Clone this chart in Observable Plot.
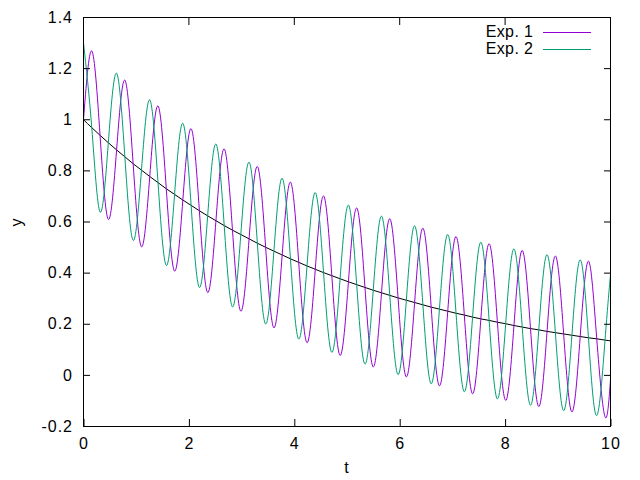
<!DOCTYPE html>
<html>
<head>
<meta charset="utf-8">
<script src="https://cdn.jsdelivr.net/npm/d3@7"></script>
<script src="https://cdn.jsdelivr.net/npm/@observablehq/plot@0.6"></script>
<style>
  html, body { margin: 0; padding: 0; background: white; }
  #wrap { position: relative; width: 640px; height: 480px; font-family: "Liberation Sans", Arial, sans-serif; }
  #wrap svg text { letter-spacing: 1px; }
  .lg-text { position: absolute; font-size: 16px; line-height: 18px; color: black; white-space: nowrap; letter-spacing: 0.4px; }
  .lg-line { position: absolute; height: 1px; }
</style>
</head>
<body>
<div id="wrap"></div>
<script>
// ---- data ----
const seriesNames = ["Exp. 1", "Exp. 2"];
const seriesColors = ["#9400d3", "#009e73"];

const t = [0.000, 0.157, 0.314, 0.471, 0.628, 0.785, 0.942, 1.100, 1.257, 1.414,
  1.571, 1.728, 1.885, 2.042, 2.199, 2.356, 2.513, 2.670, 2.827, 2.985,
  3.142, 3.299, 3.456, 3.613, 3.770, 3.927, 4.084, 4.241, 4.398, 4.555,
  4.712, 4.869, 5.027, 5.184, 5.341, 5.498, 5.655, 5.812, 5.969, 6.126,
  6.283, 6.440, 6.597, 6.754, 6.912, 7.069, 7.226, 7.383, 7.540, 7.697,
  7.854, 8.011, 8.168, 8.325, 8.482, 8.639, 8.796, 8.954, 9.111, 9.268,
  9.425, 9.582, 9.739, 9.896, 10.000];

const baseline = [1.000, 0.969, 0.939, 0.910, 0.882, 0.855, 0.828, 0.803, 0.778, 0.754,
  0.730, 0.708, 0.686, 0.665, 0.644, 0.624, 0.605, 0.586, 0.568, 0.551,
  0.534, 0.517, 0.501, 0.486, 0.471, 0.456, 0.442, 0.428, 0.415, 0.402,
  0.390, 0.378, 0.366, 0.355, 0.344, 0.333, 0.323, 0.313, 0.303, 0.294,
  0.285, 0.276, 0.267, 0.259, 0.251, 0.243, 0.236, 0.228, 0.221, 0.215,
  0.208, 0.202, 0.195, 0.189, 0.183, 0.178, 0.172, 0.167, 0.162, 0.157,
  0.152, 0.147, 0.143, 0.138, 0.135];

const exp1 = [1.000, 1.269, 0.939, 0.610, 0.882, 1.155, 0.828, 0.503, 0.778, 1.054,
  0.730, 0.408, 0.686, 0.965, 0.644, 0.324, 0.605, 0.886, 0.568, 0.251,
  0.534, 0.817, 0.501, 0.186, 0.471, 0.756, 0.442, 0.128, 0.415, 0.702,
  0.390, 0.078, 0.366, 0.655, 0.344, 0.033, 0.323, 0.613, 0.303, -0.006,
  0.285, 0.576, 0.267, -0.041, 0.251, 0.543, 0.236, -0.072, 0.221, 0.515,
  0.208, -0.098, 0.195, 0.489, 0.183, -0.122, 0.172, 0.467, 0.162, -0.143,
  0.152, 0.447, 0.143, -0.162, -0.017];

const exp2 = [1.300, 0.969, 0.639, 0.910, 1.182, 0.855, 0.528, 0.803, 1.078, 0.754,
  0.430, 0.708, 0.986, 0.665, 0.344, 0.624, 0.905, 0.586, 0.268, 0.551,
  0.834, 0.517, 0.201, 0.486, 0.771, 0.456, 0.142, 0.428, 0.715, 0.402,
  0.090, 0.378, 0.666, 0.355, 0.044, 0.333, 0.623, 0.313, 0.003, 0.294,
  0.585, 0.276, -0.033, 0.259, 0.551, 0.243, -0.064, 0.228, 0.521, 0.215,
  -0.092, 0.202, 0.495, 0.189, -0.117, 0.178, 0.472, 0.167, -0.138, 0.157,
  0.452, 0.147, -0.157, 0.138, 0.394];

const xTicks = [0, 2, 4, 6, 8, 10];
const xTickLabels = ["0", "2", "4", "6", "8", "10"];
const yTicks = [-0.2, 0, 0.2, 0.4, 0.6, 0.8, 1, 1.2, 1.4];
const yTickLabels = ["-0.2", "0", "0.2", "0.4", "0.6", "0.8", "1", "1.2", "1.4"];

// ---- build table ----
const rows = t.map((tv, i) => ({t: tv, base: baseline[i], exp1: exp1[i], exp2: exp2[i]}));

const TS = -7; // inward ticks
const plot = Plot.plot({
  width: 640,
  height: 480,
  marginLeft: 83,
  marginRight: 30,
  marginTop: 17,
  marginBottom: 54,
  style: {fontFamily: "Liberation Sans, Arial, sans-serif", fontSize: "16px", color: "black", background: "white", overflow: "visible"},
  x: {domain: [0, 10]},
  y: {domain: [-0.2, 1.4]},
  marks: [
    Plot.line(rows, {x: "t", y: "base", stroke: "black", strokeWidth: 1, curve: "natural"}),
    Plot.line(rows, {x: "t", y: "exp1", stroke: seriesColors[0], strokeWidth: 1, curve: "natural"}),
    Plot.line(rows, {x: "t", y: "exp2", stroke: seriesColors[1], strokeWidth: 1, curve: "natural"}),
    Plot.frame({stroke: "black", strokeWidth: 1}),
    Plot.axisX(xTicks, {anchor: "bottom", tickSize: TS, tickPadding: 18.5, dx: 0.5,
      tickFormat: (d) => xTickLabels[xTicks.indexOf(d)],
      label: "t", labelAnchor: "center", labelArrow: "none", labelOffset: 46, fill: "black"}),
    Plot.axisX(xTicks, {anchor: "top", tickSize: TS, tickFormat: () => "", label: null}),
    Plot.axisY(yTicks, {anchor: "left", tickSize: TS, tickPadding: 17.5,
      tickFormat: (d) => yTickLabels[yTicks.indexOf(d)],
      label: "y", labelAnchor: "center", labelArrow: "none", labelOffset: 72.5, fill: "black"}),
    Plot.axisY(yTicks, {anchor: "right", tickSize: TS, tickFormat: () => "", label: null})
  ]
});

const wrap = document.getElementById("wrap");
wrap.appendChild(plot);

// ---- legend (top right, gnuplot style) ----
seriesNames.forEach((name, i) => {
  const txt = document.createElement("div");
  txt.className = "lg-text";
  txt.textContent = name;
  txt.style.right = (640 - 533.4) + "px";
  txt.style.top = (22.6 + 17 * i) + "px";
  wrap.appendChild(txt);
  const ln = document.createElement("div");
  ln.className = "lg-line";
  ln.style.left = "543px";
  ln.style.width = "48px";
  ln.style.top = (32 + 17 * i) + "px";
  ln.style.background = seriesColors[i];
  wrap.appendChild(ln);
});
</script>
</body>
</html>
